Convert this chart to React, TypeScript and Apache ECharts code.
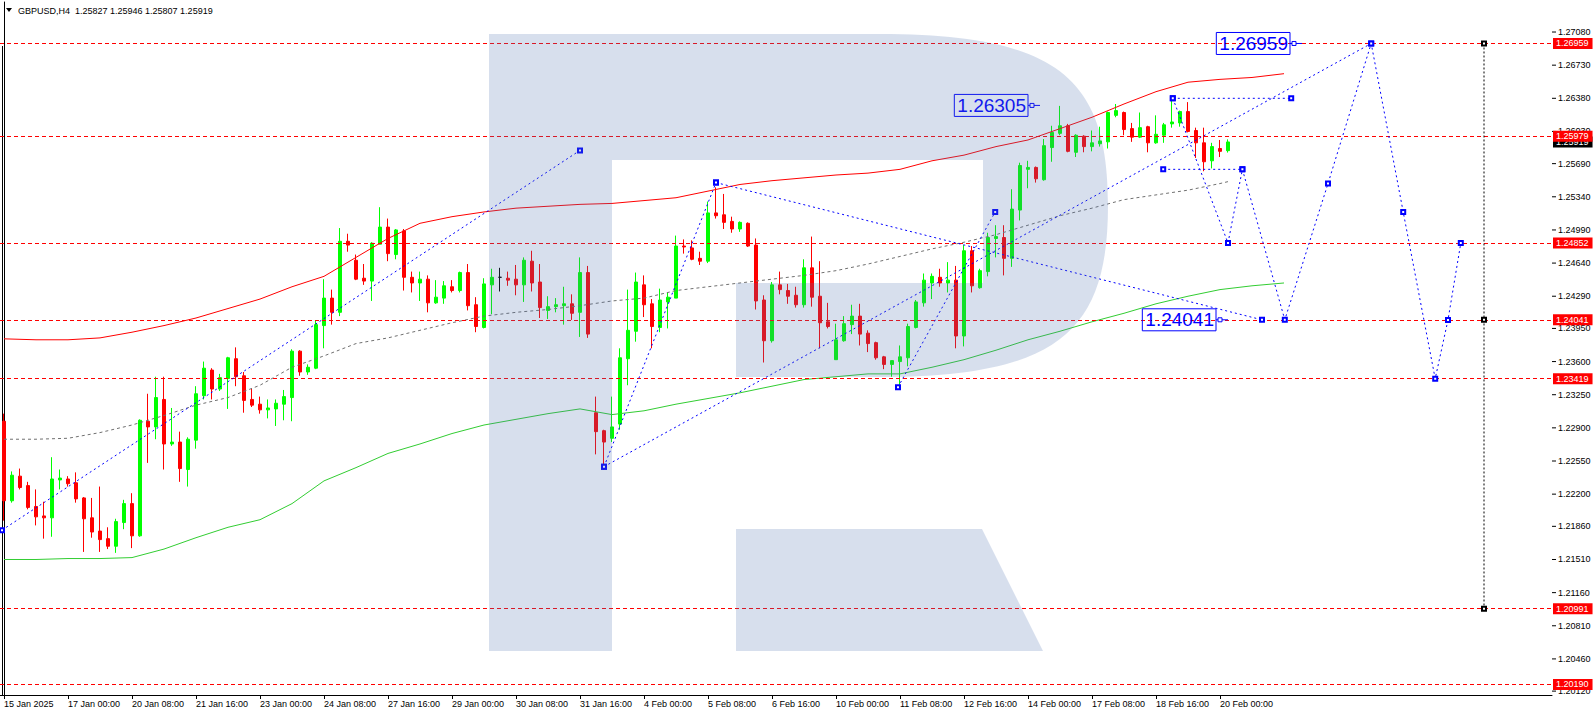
import { useEffect, useRef } from "react";
import * as echarts from "echarts";

// ---------- data ----------
const SYMBOL_TITLE = "GBPUSD,H4";
const HEADER_OHLC = [1.25827, 1.25946, 1.25807, 1.25919];
const Y_MIN = 1.20079;
const Y_MAX = 1.27397;
const SLOT_COUNT = 194; // bars incl. empty future space
const START_TIME = Date.UTC(2025, 0, 15, 16, 0);
const LABEL_EVERY = 8;
const LAST_LABELLED_BAR = 152;
const MONTHS = ["Jan", "Feb", "Mar", "Apr", "May", "Jun", "Jul", "Aug", "Sep", "Oct", "Nov", "Dec"];

// [open, high, low, close]
const candles: number[][] = [
  [1.2297, 1.2305, 1.2192, 1.2213], [1.2213, 1.2244, 1.2211, 1.224], [1.2239, 1.2247, 1.2225, 1.2227],
  [1.2229, 1.2233, 1.2204, 1.2206], [1.2207, 1.2225, 1.2187, 1.2196], [1.2197, 1.2212, 1.2173, 1.2195],
  [1.2195, 1.2259, 1.2175, 1.2236], [1.2235, 1.2246, 1.2225, 1.2237], [1.2236, 1.2239, 1.2228, 1.2231],
  [1.2232, 1.2243, 1.2211, 1.2215], [1.2216, 1.2217, 1.2159, 1.2194], [1.2195, 1.2216, 1.2174, 1.218],
  [1.2181, 1.2228, 1.2159, 1.2172], [1.2173, 1.2185, 1.2162, 1.2165], [1.2165, 1.2194, 1.2158, 1.2191],
  [1.219, 1.2214, 1.2183, 1.221], [1.221, 1.2221, 1.2163, 1.2176], [1.2176, 1.2299, 1.2175, 1.2298],
  [1.2297, 1.2326, 1.2253, 1.2291], [1.2291, 1.2344, 1.2278, 1.2322], [1.232, 1.2344, 1.2246, 1.2273],
  [1.2273, 1.2311, 1.2271, 1.2275], [1.2275, 1.2286, 1.2233, 1.2247], [1.2246, 1.228, 1.2228, 1.2278],
  [1.2277, 1.2334, 1.2268, 1.2326], [1.2324, 1.236, 1.232, 1.2353], [1.2351, 1.2353, 1.232, 1.2331],
  [1.2331, 1.2347, 1.2329, 1.2343], [1.2342, 1.2365, 1.231, 1.2364], [1.2363, 1.2375, 1.2334, 1.2344],
  [1.2345, 1.2349, 1.2306, 1.2319], [1.232, 1.2331, 1.2312, 1.2314], [1.2315, 1.2323, 1.2305, 1.2309],
  [1.2309, 1.232, 1.23, 1.2311], [1.231, 1.232, 1.2292, 1.2316], [1.2315, 1.233, 1.2298, 1.2323],
  [1.2322, 1.2373, 1.2297, 1.2371], [1.2371, 1.2372, 1.2345, 1.2349], [1.2349, 1.2357, 1.2346, 1.2354],
  [1.2353, 1.2403, 1.2352, 1.2399], [1.2398, 1.2447, 1.2374, 1.2427], [1.2427, 1.2436, 1.2399, 1.2412],
  [1.2412, 1.2501, 1.2408, 1.2487], [1.2487, 1.2495, 1.2476, 1.2483], [1.2467, 1.2473, 1.2446, 1.2447],
  [1.2448, 1.2463, 1.2441, 1.2445], [1.2445, 1.2486, 1.2424, 1.2485], [1.2484, 1.2523, 1.2484, 1.2502],
  [1.2502, 1.2511, 1.2466, 1.2474], [1.2473, 1.25, 1.2468, 1.2499], [1.2498, 1.25, 1.2435, 1.2449],
  [1.2449, 1.2455, 1.2433, 1.2443], [1.2443, 1.2455, 1.2424, 1.2447], [1.2447, 1.2451, 1.2412, 1.2422],
  [1.2422, 1.2446, 1.2421, 1.2428], [1.2427, 1.2445, 1.2421, 1.244], [1.2439, 1.2446, 1.2433, 1.2435],
  [1.2435, 1.2455, 1.2433, 1.2454], [1.2454, 1.2463, 1.2414, 1.2419], [1.242, 1.2428, 1.2391, 1.2397],
  [1.2396, 1.2448, 1.2395, 1.2442], [1.2441, 1.2458, 1.241, 1.2449], [1.2449, 1.2459, 1.2434, 1.2449],
  [1.2448, 1.2455, 1.244, 1.2446], [1.2447, 1.2462, 1.243, 1.2441], [1.2441, 1.247, 1.2423, 1.2467],
  [1.2466, 1.2477, 1.2434, 1.2443], [1.2444, 1.2463, 1.2406, 1.2417], [1.2414, 1.2429, 1.2405, 1.2418],
  [1.2418, 1.2427, 1.2412, 1.242], [1.2419, 1.2439, 1.2399, 1.2421], [1.2421, 1.2431, 1.2404, 1.2411],
  [1.2412, 1.247, 1.2386, 1.2454], [1.2454, 1.2461, 1.2385, 1.2389], [1.2306, 1.2323, 1.2262, 1.2286],
  [1.2287, 1.2288, 1.2246, 1.2275], [1.2279, 1.2323, 1.2275, 1.2291], [1.2294, 1.2374, 1.2288, 1.2364],
  [1.2363, 1.2436, 1.2335, 1.2393], [1.2392, 1.2454, 1.2381, 1.2444], [1.2441, 1.2451, 1.2407, 1.242],
  [1.2421, 1.2426, 1.2374, 1.2397], [1.2396, 1.2437, 1.2391, 1.2425], [1.2423, 1.2433, 1.2395, 1.2428],
  [1.2427, 1.2493, 1.2427, 1.2482], [1.2482, 1.2489, 1.2474, 1.2481], [1.248, 1.2488, 1.2467, 1.2468],
  [1.2469, 1.2476, 1.2462, 1.2466], [1.2466, 1.2529, 1.2464, 1.2517], [1.2517, 1.2544, 1.2511, 1.2514],
  [1.2515, 1.2537, 1.25, 1.2507], [1.2508, 1.2513, 1.2496, 1.25], [1.25, 1.2508, 1.2497, 1.2507],
  [1.2506, 1.2507, 1.2481, 1.2482], [1.2483, 1.249, 1.2415, 1.2424], [1.2425, 1.243, 1.2359, 1.2382],
  [1.2382, 1.2444, 1.238, 1.2441], [1.2441, 1.2455, 1.2431, 1.2436], [1.2435, 1.2442, 1.2421, 1.2429],
  [1.243, 1.2439, 1.2417, 1.242], [1.242, 1.2468, 1.2417, 1.2459], [1.2459, 1.2492, 1.2418, 1.2428],
  [1.2429, 1.2466, 1.2374, 1.2401], [1.2402, 1.2422, 1.2395, 1.2397], [1.2362, 1.24, 1.2362, 1.2383],
  [1.2382, 1.2408, 1.2381, 1.24], [1.2399, 1.242, 1.2389, 1.2408], [1.2408, 1.2421, 1.2377, 1.2389],
  [1.239, 1.2393, 1.237, 1.2379], [1.238, 1.2381, 1.2362, 1.2364], [1.2365, 1.2366, 1.2352, 1.2357],
  [1.2357, 1.2361, 1.2344, 1.2361], [1.236, 1.2377, 1.233, 1.2365], [1.2364, 1.24, 1.2355, 1.2397],
  [1.2396, 1.2425, 1.2395, 1.2423], [1.2422, 1.2453, 1.2418, 1.2446], [1.2443, 1.2453, 1.2426, 1.245],
  [1.2449, 1.2458, 1.2439, 1.2443], [1.2443, 1.2465, 1.2433, 1.2446], [1.2446, 1.2461, 1.2374, 1.2387],
  [1.2387, 1.2483, 1.2376, 1.2477], [1.2477, 1.2482, 1.2433, 1.244], [1.2438, 1.2458, 1.2437, 1.2456],
  [1.2455, 1.2496, 1.245, 1.2491], [1.249, 1.2504, 1.247, 1.2492], [1.2491, 1.2504, 1.2451, 1.2469],
  [1.2469, 1.2542, 1.246, 1.2521], [1.252, 1.257, 1.2509, 1.2567], [1.2563, 1.2572, 1.2543, 1.2565],
  [1.2565, 1.2566, 1.2549, 1.2553], [1.2552, 1.2595, 1.2551, 1.2588], [1.2586, 1.2609, 1.2571, 1.2602],
  [1.2601, 1.263, 1.2599, 1.2609], [1.2609, 1.2611, 1.2581, 1.2582], [1.2581, 1.26, 1.2576, 1.2599],
  [1.2598, 1.2599, 1.2581, 1.2587], [1.2587, 1.2604, 1.2582, 1.2591], [1.259, 1.2608, 1.2587, 1.2593],
  [1.2592, 1.2624, 1.2585, 1.2623], [1.262, 1.2632, 1.2618, 1.2625], [1.2623, 1.2624, 1.2599, 1.2605],
  [1.2606, 1.2612, 1.2592, 1.2597], [1.2597, 1.2623, 1.2596, 1.2607], [1.2608, 1.2609, 1.2581, 1.2591],
  [1.2591, 1.262, 1.259, 1.26], [1.2599, 1.2612, 1.2591, 1.261], [1.2611, 1.2636, 1.2607, 1.2613],
  [1.2612, 1.2625, 1.2608, 1.2624], [1.2624, 1.2634, 1.2602, 1.2603], [1.2604, 1.2607, 1.2575, 1.2591],
  [1.2591, 1.2607, 1.2561, 1.2571], [1.2572, 1.2591, 1.2564, 1.2587], [1.2585, 1.2594, 1.2576, 1.2582],
  [1.25827, 1.25946, 1.25807, 1.25919],
];

// indicator lines, sampled every SAMPLE_STEP bars starting at bar 0
const SAMPLE_STEP = 4;
const upperBand = [
  1.2384, 1.2383, 1.2383, 1.2385, 1.2391, 1.2398, 1.2406, 1.2416, 1.2426, 1.2439, 1.245, 1.247, 1.249, 1.2506,
  1.2513, 1.2518, 1.2522, 1.2524, 1.2526, 1.2527, 1.253, 1.2533, 1.254, 1.2547, 1.2551, 1.2554, 1.2557, 1.2559,
  1.2563, 1.2572, 1.2578, 1.2587, 1.2594, 1.2606, 1.2618, 1.2632, 1.2645, 1.2655, 1.2658, 1.266, 1.2664,
];
const lowerBand = [
  1.2151, 1.2151, 1.2152, 1.2152, 1.2153, 1.2162, 1.2174, 1.2185, 1.2193, 1.221, 1.2234, 1.2248, 1.2263, 1.2273,
  1.2284, 1.2293, 1.2299, 1.2305, 1.231, 1.2304, 1.2308, 1.2315, 1.2321, 1.2327, 1.2334, 1.2341, 1.2344, 1.2347,
  1.2347, 1.2354, 1.2362, 1.2372, 1.2383, 1.2392, 1.2402, 1.2411, 1.2421, 1.2429, 1.2436, 1.244, 1.2443,
];
const midLine = [
  1.2278, 1.2278, 1.2279, 1.2285, 1.2293, 1.2303, 1.2314, 1.2322, 1.2335, 1.2354, 1.2366, 1.2379, 1.2385, 1.2393,
  1.2401, 1.2408, 1.2412, 1.2415, 1.2419, 1.2424, 1.2427, 1.2435, 1.2439, 1.2443, 1.2447, 1.2451, 1.2456, 1.2463,
  1.2471, 1.2479, 1.2486, 1.2494, 1.2504, 1.2514, 1.2522, 1.2531, 1.2536, 1.2541, 1.2548,
];
const midLineLast = [153, 1.255];

// right-axis tick labels
const yTicks = [
  1.2708, 1.2673, 1.2638, 1.2603, 1.2569, 1.2534, 1.2499, 1.2464, 1.2429, 1.2395, 1.236, 1.2325, 1.229, 1.2255,
  1.222, 1.2186, 1.2151, 1.2116, 1.2081, 1.2046, 1.2012,
];

// horizontal levels
const levels = [1.26959, 1.25979, 1.24852, 1.24041, 1.23419, 1.20991, 1.2019];
const currentPrice = 1.25919;

// blue analysis lines: [bar, price]
const trendLines: number[][][] = [
  [[-0.25, 1.2182], [72, 1.2583]],
  [[75, 1.2249], [89, 1.2549]],
  [[89, 1.2549], [157.25, 1.24041]],
  [[75, 1.2249], [170.9, 1.26959]],
  [[111.75, 1.2333], [123.9, 1.2518]],
  [[146.1, 1.2638], [160.9, 1.2638]],
  [[144.9, 1.2563], [154.8, 1.2563]],
];
const forecastPath = [
  [146.1, 1.2638], [153, 1.24852], [154.8, 1.2563], [160.1, 1.24041], [165.5, 1.2548], [170.9, 1.26959],
  [174.9, 1.2518], [178.9, 1.23419], [180.5, 1.2404], [182.1, 1.24852],
];
const targetLine = [[185, 1.26959], [185, 1.24041], [185, 1.20991]];

// price callouts
const calloutBars = [160.75, 128, 151.5];
const calloutPrices = [1.26959, 1.26305, 1.24041];

// ---------- helpers ----------
const pad2 = (n: number) => (n < 10 ? "0" + n : String(n));
function buildCategories(): string[] {
  const out: string[] = [];
  let t = START_TIME;
  while (out.length < SLOT_COUNT) {
    const d = new Date(t);
    const wd = d.getUTCDay();
    if (wd !== 0 && wd !== 6) {
      const day = `${d.getUTCDate()} ${MONTHS[d.getUTCMonth()]}`;
      out.push(out.length === 0 ? `${day} ${d.getUTCFullYear()}` : `${day} ${pad2(d.getUTCHours())}:${pad2(d.getUTCMinutes())}`);
    }
    t += 4 * 3600 * 1000;
  }
  return out;
}

const LOGO_PATH =
  "M489 34 L880 34 C1060 34 1108 80 1108 205 C1108 330 1060 377 880 377 L736 377 L736 283 L983 283 L983 160 L612 160 L612 651 L489 651 Z " +
  "M736 529 L982 529 L1043 651 L736 651 Z";
echarts.graphic.registerShape("rLogo", echarts.graphic.extendPath(LOGO_PATH, {}) as any);

const FONT = '"Liberation Sans", Arial, sans-serif';
const BLUE = "#0000ff";

export default function App() {
  const ref = useRef<HTMLDivElement>(null);
  useEffect(() => {
    document.body.style.margin = "0";
    const chart = echarts.init(ref.current!, null, { renderer: "svg" });
    const categories = buildCategories();
    const labelFn = (i: number) => i % LABEL_EVERY === 0 && i <= LAST_LABELLED_BAR;

    const sampled = (arr: number[]) => arr.map((v, k) => [k * SAMPLE_STEP, v]);

    const blueLine = (pts: number[][], sym = true) => ({
      type: "line",
      xAxisIndex: 1,
      yAxisIndex: 0,
      data: pts,
      symbol: sym ? "emptyRect" : "none",
      symbolSize: 4,
      showSymbol: sym,
      silent: true,
      z: 6,
      itemStyle: { color: BLUE, borderColor: BLUE, borderWidth: 1 },
      lineStyle: { color: BLUE, width: 1, type: [2, 3] },
    });

    const priceLabel = (bg: string) => ({
      show: true,
      position: "end",
      distance: 1,
      formatter: "{b}",
      color: "#fff",
      backgroundColor: bg,
      fontSize: 9,
      fontFamily: FONT,
      lineHeight: 11,
      padding: [0, 4, 0, 3],
    });

    const option: any = {
      animation: false,
      backgroundColor: "#ffffff",
      textStyle: { fontFamily: FONT },
      grid: { left: 0, top: 2, width: SLOT_COUNT * 8, height: 693, containLabel: false },
      xAxis: [
        {
          type: "category",
          data: categories,
          boundaryGap: true,
          axisLine: { show: true, lineStyle: { color: "#000", width: 1 } },
          axisTick: { show: true, interval: labelFn, alignWithLabel: true, length: 4, lineStyle: { color: "#000" } },
          axisLabel: {
            show: true,
            interval: labelFn,
            align: "left",
            margin: 4,
            fontSize: 9,
            color: "#000",
            fontFamily: FONT,
          },
          splitLine: { show: false },
        },
        { type: "value", min: -0.5, max: SLOT_COUNT - 0.5, show: false },
      ],
      yAxis: {
        type: "value",
        position: "right",
        min: Y_MIN,
        max: Y_MAX,
        axisLine: { show: true, lineStyle: { color: "#000", width: 1 } },
        axisTick: { show: false },
        axisLabel: { show: false },
        splitLine: { show: false },
      },
      graphic: [
        { type: "line", shape: { x1: 2.5, y1: 46, x2: 2.5, y2: 695 }, style: { stroke: "#000", lineWidth: 1 }, silent: true },
        { type: "polygon", shape: { points: [[6, 8], [12, 8], [9, 12]] }, style: { fill: "#000" }, silent: true },
        {
          type: "text",
          x: 18,
          y: 11,
          silent: true,
          style: {
            text: `${SYMBOL_TITLE}  ${HEADER_OHLC.map((v) => v.toFixed(5)).join(" ")}`,
            font: `9px ${FONT}`,
            fill: "#000",
            verticalAlign: "middle",
          },
        },
        {
          type: "rLogo",
          x: 0,
          y: 0,
          z: 50,
          silent: true,
          style: { fill: "rgba(79,114,176,0.227)" },
        },
      ],
      series: [
        {
          type: "custom",
          xAxisIndex: 0,
          yAxisIndex: 0,
          silent: true,
          z: 1,
          data: yTicks.map((v) => [0, v]),
          renderItem: (params: any, api: any) => {
            const pt = api.coord([api.value(0), api.value(1)]);
            const cs = params.coordSys;
            const xr = cs.x + cs.width;
            return {
              type: "group",
              children: [
                { type: "line", shape: { x1: xr, y1: pt[1], x2: xr + 4, y2: pt[1] }, style: { stroke: "#000", lineWidth: 1 } },
                {
                  type: "text",
                  x: xr + 6,
                  y: pt[1],
                  style: { text: api.value(1).toFixed(5), fill: "#000", font: `9px ${FONT}`, verticalAlign: "middle", align: "left" },
                },
              ],
            };
          },
        },
        {
          type: "candlestick",
          xAxisIndex: 0,
          yAxisIndex: 0,
          z: 3,
          barWidth: 4,
          data: candles.map(([o, h, l, c]) => [o, c, l, h]),
          itemStyle: {
            color: "#00ff00",
            color0: "#ff0000",
            borderColor: "#00ff00",
            borderColor0: "#ff0000",
            borderColorDoji: "#000000",
            borderWidth: 1,
          },
          markLine: {
            silent: true,
            precision: 5,
            symbol: ["none", "none"],
            lineStyle: { color: "#ff0000", width: 1, type: [4, 3] },
            label: priceLabel("#ff0000"),
            data: [
              {
                name: currentPrice.toFixed(5),
                yAxis: currentPrice,
                lineStyle: { color: "rgba(0,0,0,0)", width: 0 },
                label: priceLabel("#000000"),
              },
              ...levels.map((v) => ({ name: v.toFixed(5), yAxis: v })),
            ],
          },
        },
        {
          type: "line",
          xAxisIndex: 1,
          yAxisIndex: 0,
          data: sampled(upperBand),
          showSymbol: false,
          silent: true,
          z: 4,
          lineStyle: { color: "#ff0000", width: 1 },
        },
        {
          type: "line",
          xAxisIndex: 1,
          yAxisIndex: 0,
          data: sampled(lowerBand),
          showSymbol: false,
          silent: true,
          z: 4,
          lineStyle: { color: "#32cd32", width: 1 },
        },
        {
          type: "line",
          xAxisIndex: 1,
          yAxisIndex: 0,
          data: [...sampled(midLine), midLineLast],
          showSymbol: false,
          silent: true,
          z: 4,
          lineStyle: { color: "#707070", width: 1, type: [3, 3] },
        },
        ...trendLines.map((pts) => blueLine(pts)),
        blueLine(forecastPath),
        {
          type: "line",
          xAxisIndex: 1,
          yAxisIndex: 0,
          data: targetLine,
          symbol: "emptyRect",
          symbolSize: 4,
          silent: true,
          z: 6,
          itemStyle: { color: "#000", borderColor: "#000" },
          lineStyle: { color: "#000", width: 1, type: [2, 2] },
        },
        {
          type: "custom",
          xAxisIndex: 1,
          yAxisIndex: 0,
          silent: true,
          z: 7,
          data: calloutBars.map((b, k) => [b, calloutPrices[k]]),
          renderItem: (_params: any, api: any) => {
            const pt = api.coord([api.value(0), api.value(1)]);
            const x = pt[0];
            const y = pt[1];
            return {
              type: "group",
              children: [
                {
                  type: "text",
                  x,
                  y,
                  style: {
                    text: api.value(1).toFixed(5),
                    align: "right",
                    verticalAlign: "middle",
                    fill: BLUE,
                    font: `19px ${FONT}`,
                    borderColor: BLUE,
                    borderWidth: 1,
                    padding: [2, 2, 1, 3],
                  },
                },
                { type: "line", shape: { x1: x, y1: y, x2: x + 12, y2: y }, style: { stroke: BLUE, lineWidth: 1 } },
                { type: "rect", shape: { x: x + 2, y: y - 2, width: 4, height: 4 }, style: { fill: "#fff", stroke: BLUE, lineWidth: 1 } },
              ],
            };
          },
        },
      ],
    };
    chart.setOption(option);
    return () => chart.dispose();
  }, []);
  return <div ref={ref} style={{ width: 1596, height: 716, background: "#fff" }} />;
}
